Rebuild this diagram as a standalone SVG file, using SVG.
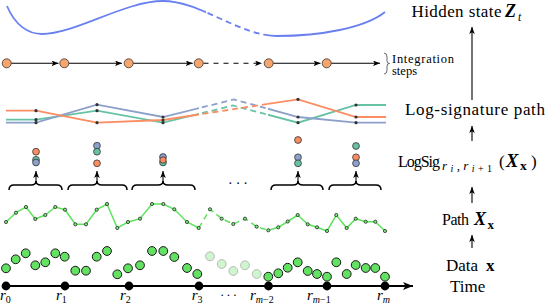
<svg xmlns="http://www.w3.org/2000/svg" width="546" height="304" viewBox="0 0 546 304">
<style>
.lbl{font-family:"Liberation Serif","Times New Roman","DejaVu Serif",serif;fill:#000}
.it{font-style:italic}
.bi{font-style:italic;font-weight:bold}
.b{font-weight:bold}
.ax{stroke:#000;stroke-width:1.1;fill:none}
.brace{stroke:#000;stroke-width:1.5;fill:none}
.top{stroke:#6b80f0;stroke-width:1.8;fill:none}
.gp{stroke:#5de35d;stroke-width:1.5;fill:none}
.gdot{fill:#7ee87e;stroke:#111;stroke-width:0.7}
.dp{fill:#63e163;stroke:#1a1a1a;stroke-width:1}
.dpf{fill:#63e163;stroke:#1a1a1a;stroke-width:1;opacity:0.3}
.knot{fill:#000}
.ls{fill:none;stroke-width:1.8}
.red{stroke:#fc8d62}
.grn{stroke:#66c2a5}
.blu{stroke:#8da0cb}
.kd{fill:#333}
.sd{stroke:#333;stroke-width:0.8}
.orange{fill:#f6a66d;stroke:#333;stroke-width:0.8}
.dash{stroke-dasharray:6 4}
</style>
<defs>
<marker id="ah" viewBox="0 0 10 8" refX="10" refY="4" markerWidth="7" markerHeight="5.6" markerUnits="userSpaceOnUse" orient="auto"><path d="M0,0 L10,4 L0,8 L2.5,4 z" fill="#000"/></marker>
<marker id="ahB" viewBox="0 0 10 8" refX="10" refY="4" markerWidth="10" markerHeight="8" markerUnits="userSpaceOnUse" orient="auto"><path d="M0,0 L10,4 L0,8 L2.5,4 z" fill="#000"/></marker>
<clipPath id="cs"><rect x="0" y="0" width="199" height="304"/><rect x="268" y="0" width="278" height="304"/></clipPath>
<clipPath id="cd"><rect x="199" y="0" width="69" height="304"/></clipPath>
<clipPath id="ts"><rect x="0" y="0" width="206" height="304"/><rect x="264" y="0" width="282" height="304"/></clipPath>
<clipPath id="td"><rect x="206" y="0" width="58" height="304"/></clipPath>
</defs>

<g id="hidden-state-curve">
<path class="top" clip-path="url(#ts)" d="M7,6 C15,25 28,34 42,34 C75,34 125,1 163,1 C200,1 240,36 277,36 C320,36 365,28 385,12"/>
<path class="top dash" clip-path="url(#td)" d="M7,6 C15,25 28,34 42,34 C75,34 125,1 163,1 C200,1 240,36 277,36 C320,36 365,28 385,12"/>
</g>

<g id="connectors">
<line class="ax" x1="11.2" y1="63.3" x2="58.5" y2="63.3" marker-end="url(#ah)"/>
<line class="ax" x1="68.8" y1="63.3" x2="122" y2="63.3" marker-end="url(#ah)"/>
<line class="ax" x1="133.2" y1="63.3" x2="192.7" y2="63.3" marker-end="url(#ah)"/>
<line class="ax" x1="203.5" y1="63.3" x2="262" y2="63.3" stroke-dasharray="5 5" marker-end="url(#ah)"/>
<line class="ax" x1="273.2" y1="63.3" x2="320.5" y2="63.3" marker-end="url(#ah)"/>
<line class="ax" x1="331.2" y1="63.3" x2="380" y2="63.3" marker-end="url(#ah)"/>
<line class="ax" x1="36" y1="182" x2="36" y2="171" marker-end="url(#ah)"/>
<line class="ax" x1="97" y1="182" x2="97" y2="171" marker-end="url(#ah)"/>
<line class="ax" x1="163" y1="182" x2="163" y2="171" marker-end="url(#ah)"/>
<line class="ax" x1="298" y1="182" x2="298" y2="171" marker-end="url(#ah)"/>
<line class="ax" x1="356" y1="182" x2="356" y2="171" marker-end="url(#ah)"/>
<line class="ax" x1="472" y1="100" x2="472" y2="27" marker-end="url(#ah)"/>
<line class="ax" x1="472" y1="141" x2="472" y2="126" marker-end="url(#ah)"/>
<line class="ax" x1="472" y1="203" x2="472" y2="187" marker-end="url(#ah)"/>
<line class="ax" x1="472" y1="248" x2="472" y2="235" marker-end="url(#ah)"/>
<line x1="6" y1="286" x2="413" y2="286" stroke="#000" stroke-width="1.8" marker-end="url(#ahB)"/>
</g>

<g id="integration-steps">
<circle class="orange" cx="6.7" cy="63.3" r="4.5"/>
<circle class="orange" cx="64.3" cy="63.3" r="4.5"/>
<circle class="orange" cx="128.7" cy="63.3" r="4.5"/>
<circle class="orange" cx="198.7" cy="63.3" r="4.5"/>
<circle class="orange" cx="268.7" cy="63.3" r="4.5"/>
<circle class="orange" cx="326.7" cy="63.3" r="4.5"/>
<path d="M384,53 Q387,53 387,57 L387,61 Q387,63.5 389.5,63.5 Q387,63.5 387,66 L387,70 Q387,74 384,74" fill="none" stroke="#444" stroke-width="0.8"/>
<text class="lbl" x="392" y="63" font-size="12.5" textLength="62">Integration</text>
<text class="lbl" x="392" y="74.5" font-size="12.5">steps</text>
</g>

<g id="log-signature-path">
<g clip-path="url(#cs)">
<path class="ls grn" d="M6,119.7 L36,119.7 L97,110.7 L163,122.7 L233,105.5 L298,122.7 L356,105 L386,105"/>
<path class="ls blu" d="M6,122.7 L36,122.7 L97,104.7 L163,117 L234,99.5 L298,117 L356,122.7 L386,122.7"/>
<path class="ls red" d="M6,110.7 L36,110.7 L97,122.7 L163,120 L298,99.3 L356,117 L386,117"/>
</g>
<g clip-path="url(#cd)">
<path class="ls grn dash" d="M163,122.7 L233,105.5 L298,122.7"/>
<path class="ls blu dash" d="M163,117 L234,99.5 L298,117"/>
<path class="ls red dash" d="M163,120 L298,99.3"/>
</g>
<g class="kd">
<circle cx="36" cy="110.7" r="1.6"/><circle cx="36" cy="119.7" r="1.6"/><circle cx="36" cy="122.7" r="1.6"/>
<circle cx="97" cy="104.7" r="1.6"/><circle cx="97" cy="110.7" r="1.6"/><circle cx="97" cy="122.7" r="1.6"/>
<circle cx="163" cy="117" r="1.6"/><circle cx="163" cy="120" r="1.6"/><circle cx="163" cy="122.7" r="1.6"/>
<circle cx="298" cy="99.3" r="1.6"/><circle cx="298" cy="117" r="1.6"/><circle cx="298" cy="122.7" r="1.6"/>
<circle cx="356" cy="105" r="1.6"/><circle cx="356" cy="117" r="1.6"/><circle cx="356" cy="122.7" r="1.6"/>
</g>
</g>

<g id="log-signatures">
<circle class="sd" fill="#fc8d62" cx="36" cy="151.7" r="3.4"/>
<circle class="sd" fill="#66c2a5" cx="36" cy="159.8" r="3.4"/>
<circle class="sd" fill="#8da0cb" cx="36" cy="162.5" r="3.4"/>
<circle class="sd" fill="#8da0cb" cx="97" cy="145.7" r="3.4"/>
<circle class="sd" fill="#66c2a5" cx="97" cy="151.7" r="3.4"/>
<circle class="sd" fill="#fc8d62" cx="97" cy="163.3" r="3.4"/>
<circle class="sd" fill="#8da0cb" cx="163" cy="157" r="3.4"/>
<circle class="sd" fill="#66c2a5" cx="163" cy="162.5" r="3.4"/>
<circle class="sd" fill="#fc8d62" cx="163" cy="160" r="3.2"/>
<circle class="sd" fill="#fc8d62" cx="298" cy="140" r="3.4"/>
<circle class="sd" fill="#8da0cb" cx="298" cy="157.3" r="3.4"/>
<circle class="sd" fill="#66c2a5" cx="298" cy="163.3" r="3.4"/>
<circle class="sd" fill="#66c2a5" cx="356" cy="146" r="3.4"/>
<circle class="sd" fill="#fc8d62" cx="356" cy="157.3" r="3.4"/>
<circle class="sd" fill="#8da0cb" cx="356" cy="163.3" r="3.4"/>
</g>

<g id="braces">
<path class="brace" d="M9,190 Q9,185 14,185 L31,185 Q36,185 36,181 Q36,185 41,185 L57,185 Q62,185 62,190"/>
<path class="brace" d="M68,190 Q68,185 73,185 L92,185 Q97,185 97,181 Q97,185 102,185 L122,185 Q127,185 127,190"/>
<path class="brace" d="M132,190 Q132,185 137,185 L158,185 Q163,185 163,181 Q163,185 168,185 L190,185 Q195,185 195,190"/>
<path class="brace" d="M271,190 Q271,185 276,185 L293,185 Q298,185 298,181 Q298,185 303,185 L318,185 Q323,185 323,190"/>
<path class="brace" d="M329,190 Q329,185 334,185 L351,185 Q356,185 356,181 Q356,185 361,185 L376,185 Q381,185 381,190"/>
<text class="lbl" x="228" y="188" font-size="14" letter-spacing="3">···</text>
</g>

<g id="path-x">
<path class="gp" clip-path="url(#cs)" d="M6,222 L16,212.7 L26,207 L35.3,219 L45.3,215 L55.3,207 L65,209.7 L75.3,224.3 L86,224.3 L96.7,209.7 L107,204 L117.3,228 L128,222 L140,218.7 L152,204 L163.3,204 L174.3,209.3 L187,222 L198.7,228 L210,209.3 L221.7,218.7 L233.3,224 L245,218.7 L256.7,226.7 L268.3,230.3 L278.3,227.3 L287.7,221.5 L297.7,215 L307.7,224.3 L317,227.3 L327,231 L336.3,215 L346.7,228 L355.7,218.7 L365.7,221.7 L375.3,221.7 L385,231"/>
<path class="gp dash" clip-path="url(#cd)" d="M198.7,228 L210,209.3 L221.7,218.7 L233.3,224 L245,218.7 L256.7,226.7 L268.3,230.3"/>
<g class="gdot">
<circle cx="6" cy="222" r="1.6"/><circle cx="16" cy="212.7" r="1.6"/><circle cx="26" cy="207" r="1.6"/><circle cx="35.3" cy="219" r="1.6"/><circle cx="45.3" cy="215" r="1.6"/><circle cx="55.3" cy="207" r="1.6"/><circle cx="65" cy="209.7" r="1.6"/><circle cx="75.3" cy="224.3" r="1.6"/><circle cx="86" cy="224.3" r="1.6"/><circle cx="96.7" cy="209.7" r="1.6"/><circle cx="107" cy="204" r="1.6"/><circle cx="117.3" cy="228" r="1.6"/><circle cx="128" cy="222" r="1.6"/><circle cx="140" cy="218.7" r="1.6"/><circle cx="152" cy="204" r="1.6"/><circle cx="163.3" cy="204" r="1.6"/><circle cx="174.3" cy="209.3" r="1.6"/><circle cx="187" cy="222" r="1.6"/><circle cx="198.7" cy="228" r="1.6"/><circle cx="210" cy="209.3" r="1.6"/><circle cx="221.7" cy="218.7" r="1.6"/><circle cx="233.3" cy="224" r="1.6"/><circle cx="245" cy="218.7" r="1.6"/><circle cx="256.7" cy="226.7" r="1.6"/><circle cx="268.3" cy="230.3" r="1.6"/><circle cx="278.3" cy="227.3" r="1.6"/><circle cx="287.7" cy="221.5" r="1.6"/><circle cx="297.7" cy="215" r="1.6"/><circle cx="307.7" cy="224.3" r="1.6"/><circle cx="317" cy="227.3" r="1.6"/><circle cx="327" cy="231" r="1.6"/><circle cx="336.3" cy="215" r="1.6"/><circle cx="346.7" cy="228" r="1.6"/><circle cx="355.7" cy="218.7" r="1.6"/><circle cx="365.7" cy="221.7" r="1.6"/><circle cx="375.3" cy="221.7" r="1.6"/><circle cx="385" cy="231" r="1.6"/>
</g>
</g>

<g id="data-x">
<g class="dp">
<circle cx="6" cy="268.3" r="4.4"/><circle cx="15.7" cy="259.3" r="4.4"/><circle cx="25.7" cy="253.3" r="4.4"/><circle cx="35.3" cy="265.3" r="4.4"/><circle cx="45.3" cy="262.3" r="4.4"/><circle cx="55.3" cy="253.3" r="4.4"/><circle cx="64.7" cy="256.7" r="4.4"/><circle cx="75.3" cy="270.7" r="4.4"/><circle cx="86" cy="270.7" r="4.4"/><circle cx="96.7" cy="256.7" r="4.4"/><circle cx="107" cy="251" r="4.4"/><circle cx="117.3" cy="274.3" r="4.4"/><circle cx="128" cy="268.3" r="4.4"/><circle cx="140" cy="265.3" r="4.4"/><circle cx="152" cy="251" r="4.4"/><circle cx="163.3" cy="251" r="4.4"/><circle cx="174.3" cy="257" r="4.4"/><circle cx="187" cy="268" r="4.4"/><circle cx="197.3" cy="274" r="4.4"/>
<circle cx="268.3" cy="276.7" r="4.4"/><circle cx="278.3" cy="273.3" r="4.4"/><circle cx="287.7" cy="267.7" r="4.4"/><circle cx="297.7" cy="262.3" r="4.4"/><circle cx="307.7" cy="271" r="4.4"/><circle cx="317" cy="274" r="4.4"/><circle cx="327" cy="276.7" r="4.4"/><circle cx="336.3" cy="262.3" r="4.4"/><circle cx="346.7" cy="274" r="4.4"/><circle cx="355.7" cy="265" r="4.4"/><circle cx="365.7" cy="268" r="4.4"/><circle cx="375.3" cy="268" r="4.4"/><circle cx="385" cy="276.7" r="4.4"/>
</g>
<g class="dpf">
<circle cx="210" cy="256.3" r="4.4"/><circle cx="221.7" cy="264" r="4.4"/><circle cx="233.3" cy="271" r="4.4"/><circle cx="245" cy="265.3" r="4.4"/><circle cx="256.7" cy="274" r="4.4"/>
</g>
</g>

<g id="time-axis">
<g class="knot">
<circle cx="6" cy="286" r="4.4"/><circle cx="65" cy="286" r="4.4"/><circle cx="129" cy="286" r="4.4"/><circle cx="199" cy="286" r="4.4"/><circle cx="268.5" cy="286" r="4.4"/><circle cx="327" cy="286" r="4.4"/><circle cx="385" cy="286" r="4.4"/>
</g>
<text class="lbl it" x="0" y="300" font-size="15">r<tspan font-size="10" font-style="normal" dy="3">0</tspan></text>
<text class="lbl it" x="56" y="300" font-size="15">r<tspan font-size="10" font-style="normal" dy="3">1</tspan></text>
<text class="lbl it" x="120" y="300" font-size="15">r<tspan font-size="10" font-style="normal" dy="3">2</tspan></text>
<text class="lbl it" x="191.7" y="300" font-size="15">r<tspan font-size="10" font-style="normal" dy="3">3</tspan></text>
<text class="lbl" x="220" y="299" font-size="13" letter-spacing="2">···</text>
<text class="lbl it" x="250" y="300" font-size="15">r<tspan font-size="10" dy="3">m</tspan><tspan font-size="10" font-style="normal">−2</tspan></text>
<text class="lbl it" x="307" y="300" font-size="15">r<tspan font-size="10" dy="3">m</tspan><tspan font-size="10" font-style="normal">−1</tspan></text>
<text class="lbl it" x="377" y="300" font-size="15">r<tspan font-size="10" dy="3">m</tspan></text>
</g>

<g id="labels">
<text class="lbl" x="411.5" y="17" font-size="17" textLength="90">Hidden state</text>
<text class="lbl bi" x="505" y="17" font-size="18">Z</text>
<text class="lbl it" x="518" y="20.5" font-size="11.5">t</text>
<text class="lbl" x="405" y="114.5" font-size="17" textLength="140">Log-signature path</text>
<text class="lbl" x="398" y="166.5" font-size="16" textLength="42">LogSig</text>
<text class="lbl it" x="442" y="170" font-size="13" textLength="50">r<tspan font-size="10" dy="2">i</tspan><tspan font-style="normal" dy="-2">,</tspan>r<tspan font-size="10" dy="2">i</tspan><tspan font-size="10" font-style="normal">+1</tspan></text>
<text class="lbl" x="499" y="166.5" font-size="17">(</text>
<text class="lbl bi" x="506" y="166.5" font-size="18.5">X</text>
<text class="lbl b" x="520" y="170" font-size="13.5">x</text>
<text class="lbl" x="531" y="166.5" font-size="17">)</text>
<text class="lbl" x="442" y="225" font-size="16" textLength="27">Path</text>
<text class="lbl bi" x="474" y="225" font-size="18">X</text>
<text class="lbl b" x="487.5" y="228.5" font-size="13">x</text>
<text class="lbl" x="446" y="270.5" font-size="17">Data</text>
<text class="lbl b" x="486" y="270.5" font-size="17">x</text>
<text class="lbl" x="450" y="291.5" font-size="17">Time</text>
</g>
</svg>
